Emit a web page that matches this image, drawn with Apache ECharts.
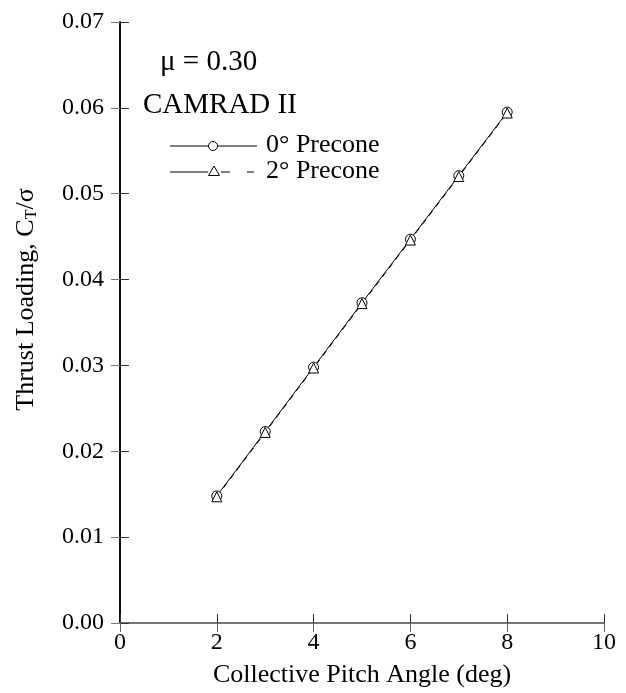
<!DOCTYPE html>
<html><head><meta charset="utf-8">
<script src="https://cdn.jsdelivr.net/npm/echarts@6/dist/echarts.min.js"></script>
<style>html,body{margin:0;padding:0;background:#fff}#c{width:626px;height:693px}</style>
</head><body><div id="c"></div>
<script>
var pitch = [2, 3, 4, 5, 6, 7, 8];
var ct0 = [0.0148, 0.0223, 0.0298, 0.0373, 0.0447, 0.0521, 0.0595];
var ct2 = [0.0147, 0.0222, 0.0297, 0.0372, 0.0446, 0.0520, 0.0594];
var xTicks = [0, 2, 4, 6, 8, 10];
var yTicks = [0.00, 0.01, 0.02, 0.03, 0.04, 0.05, 0.06, 0.07];

var F = '"Liberation Serif", "DejaVu Serif", serif';
function pairs(xs, ys){ return xs.map(function(x,i){return [x, ys[i]];}); }

var chart = echarts.init(document.getElementById('c'));
chart.setOption({
  animation: false,
  grid: {left: 120, right: 22, top: 22, bottom: 66},
  xAxis: [{
    type: 'value', min: 0, max: 10, interval: 2,
    name: 'Collective Pitch Angle (deg)', nameLocation: 'middle', nameGap: 39,
    nameTextStyle: {fontFamily: F, fontSize: 26, color: '#000'},
    axisLine: {lineStyle: {color: '#000', width: 1.5}},
    axisTick: {inside: true, length: 9, lineStyle: {color: '#333'}},
    axisLabel: {fontFamily: F, fontSize: 24, color: '#000', margin: 8},
    splitLine: {show: false}
  },{
    type: 'value', min: 0, max: 10, interval: 2, position: 'top',
    axisLine: {show: true, lineStyle: {color: '#888', width: 1.5}},
    axisTick: {inside: true, length: 9, lineStyle: {color: '#666'}},
    axisLabel: {show: false}, splitLine: {show: false}
  }],
  yAxis: [{
    type: 'value', min: 0, max: 0.07, interval: 0.01,
    name: '{a|Thrust Loading, C}{s|T}{a|/σ}', nameLocation: 'middle', nameGap: 80,
    nameTextStyle: {padding: [0, 0, 0, 46], rich: {
      a: {fontFamily: F, fontSize: 26, color: '#000'},
      s: {fontFamily: F, fontSize: 16, color: '#000', verticalAlign: 'bottom', padding: [12, 0, 0, 0]}
    }},
    axisLine: {show: true, lineStyle: {color: '#000', width: 1.5}},
    axisTick: {inside: true, length: 9, lineStyle: {color: '#333'}},
    axisLabel: {fontFamily: F, fontSize: 24, color: '#000', margin: 16,
      formatter: function(v){ return v.toFixed(2); }},
    splitLine: {show: false}
  },{
    type: 'value', min: 0, max: 0.07, interval: 0.01, position: 'right',
    axisLine: {show: true, lineStyle: {color: '#000', width: 1.5}},
    axisTick: {inside: true, length: 9, lineStyle: {color: '#777'}},
    axisLabel: {show: false}, splitLine: {show: false}
  }],
  series: [{
    name: '0° Precone', type: 'line', data: pairs(pitch, ct0),
    symbol: 'circle', symbolSize: 10,
    lineStyle: {color: '#000', width: 1},
    itemStyle: {color: '#fff', borderColor: '#000', borderWidth: 1}
  },{
    name: '2° Precone', type: 'line', data: pairs(pitch, ct2),
    symbol: 'triangle', symbolSize: 10,
    lineStyle: {color: '#000', width: 1, type: [6, 5]},
    itemStyle: {color: '#fff', borderColor: '#000', borderWidth: 1}
  }],
  graphic: [
    {type: 'text', left: 160, top: 48, style: {text: 'μ = 0.30', font: '29px ' + F, fill: '#000'}},
    {type: 'text', left: 143, top: 91, style: {text: 'CAMRAD II', font: '29px ' + F, fill: '#000'}},
    {type: 'line', shape: {x1: 170, y1: 146, x2: 257, y2: 146}, style: {stroke: '#000', lineWidth: 1}},
    {type: 'circle', shape: {cx: 213, cy: 146, r: 4.5}, style: {fill: '#fff', stroke: '#000', lineWidth: 1}},
    {type: 'text', left: 266, top: 132, style: {text: '0° Precone', font: '26px ' + F, fill: '#000'}},
    {type: 'line', shape: {x1: 170, y1: 172, x2: 208, y2: 172}, style: {stroke: '#000', lineWidth: 1}},
    {type: 'polygon', shape: {points: [[214, 166], [219.5, 175.5], [208.5, 175.5]]}, style: {fill: '#fff', stroke: '#000', lineWidth: 1}},
    {type: 'line', shape: {x1: 221, y1: 172, x2: 230, y2: 172}, style: {stroke: '#000', lineWidth: 1}},
    {type: 'line', shape: {x1: 247, y1: 172, x2: 254, y2: 172}, style: {stroke: '#000', lineWidth: 1}},
    {type: 'text', left: 266, top: 158, style: {text: '2° Precone', font: '26px ' + F, fill: '#000'}}
  ]
});
</script></body></html>
